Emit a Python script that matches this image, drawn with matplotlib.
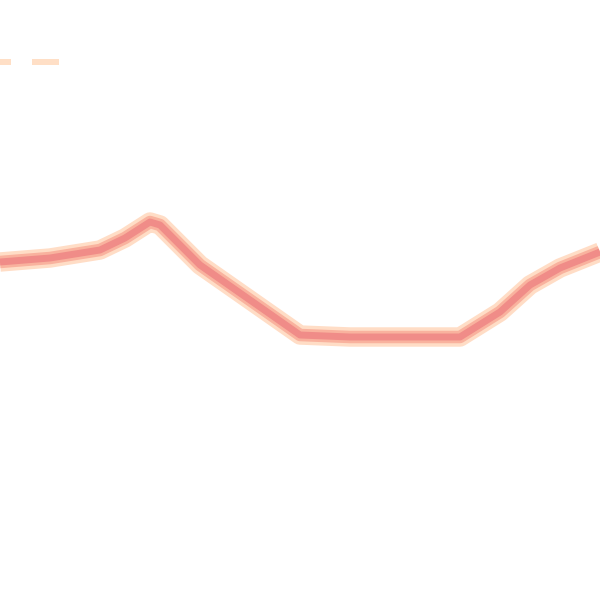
import matplotlib
matplotlib.use('Agg')
import matplotlib.pyplot as plt

# trace of the line, in image pixels (y measured from the top)
line_x = [0, 50, 100, 125, 150, 160, 200, 250, 300, 350, 400, 460, 500, 530, 560, 600]
line_y = [262, 258, 250, 238, 222, 225, 265, 300, 335, 337, 337, 337, 312, 285, 268, 252]

# dashed reference line near the top left: visible dash pieces
dash_start = [0, 32]
dash_end = [11, 59]
dash_y = 62

fig = plt.figure(figsize=(6, 6), dpi=100)
ax = fig.add_axes([0, 0, 1, 1])
ax.set_xlim(0, 600)
ax.set_ylim(600, 0)
ax.axis('off')

for x0, x1 in zip(dash_start, dash_end):
    ax.plot([x0, x1], [dash_y, dash_y], color='#FFDFC6', linewidth=4.3,
            solid_capstyle='butt')

# soft halo, then the salmon core
ax.plot(line_x, line_y, color='#FFDDC6', linewidth=14, solid_joinstyle='round',
        solid_capstyle='butt')
ax.plot(line_x, line_y, color='#F9B29E', linewidth=9, solid_joinstyle='round',
        solid_capstyle='butt')
ax.plot(line_x, line_y, color='#F08C88', linewidth=5, solid_joinstyle='round',
        solid_capstyle='butt')

fig.savefig('out.png', dpi=100)
